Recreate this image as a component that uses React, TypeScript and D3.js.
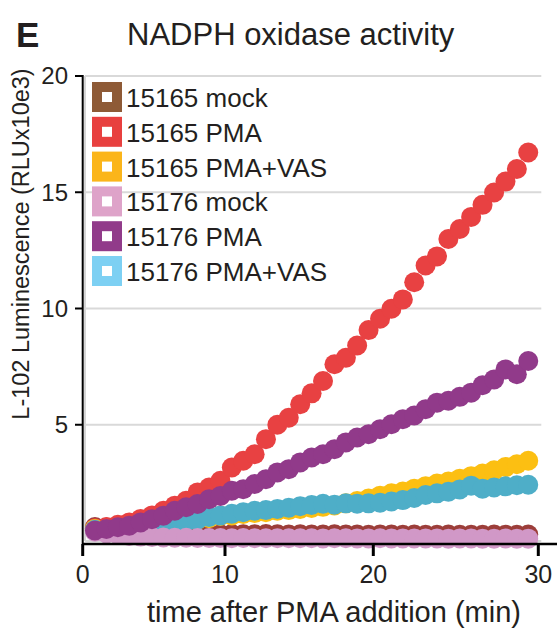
import React from "react";
import * as d3 from "d3";

// Sampling times (min) of the kinetic read
const minutes = [
  0.86, 1.67, 2.47, 3.27, 4.07, 4.87, 5.67, 6.47, 7.27, 8.07, 8.88, 9.68,
  10.46, 11.23, 12.0, 12.76, 13.53, 14.3, 15.07, 15.84, 16.61, 17.38, 18.15,
  18.91, 19.68, 20.41, 21.1, 21.79, 22.48, 23.17, 23.86, 24.55, 25.24, 25.93,
  26.62, 27.32, 28.01, 28.7, 29.39,
];

const mock15165 = [
  0.6, 0.58, 0.52, 0.47, 0.42, 0.38, 0.35, 0.33, 0.31, 0.3, 0.3, 0.29, 0.3,
  0.29, 0.29, 0.3, 0.29, 0.28, 0.29, 0.28, 0.28, 0.29, 0.28, 0.28, 0.27, 0.28,
  0.28, 0.27, 0.28, 0.27, 0.27, 0.28, 0.27, 0.27, 0.27, 0.28, 0.27, 0.27, 0.28,
];
const pma15165 = [
  0.55, 0.6, 0.7, 0.8, 0.95, 1.1, 1.3, 1.52, 1.73, 2.09, 2.3, 2.59, 3.16, 3.45,
  3.73, 4.38, 5.0, 5.3, 5.88, 6.35, 6.88, 7.6, 7.88, 8.41, 9.07, 9.56, 9.99,
  10.39, 11.13, 11.85, 12.24, 12.99, 13.42, 13.94, 14.46, 14.99, 15.46, 16.0,
  16.71,
];
const pmaVas15165 = [
  0.52, 0.5, 0.52, 0.55, 0.58, 0.62, 0.66, 0.72, 0.85, 0.92, 0.98, 1.08, 1.1,
  1.16, 1.2, 1.24, 1.3, 1.33, 1.38, 1.42, 1.47, 1.53, 1.62, 1.72, 1.83, 1.95,
  2.05, 2.13, 2.25, 2.36, 2.47, 2.56, 2.68, 2.79, 2.9, 3.04, 3.18, 3.3, 3.45,
];
const mock15176 = [
  0.4, 0.33, 0.27, 0.22, 0.19, 0.17, 0.15, 0.14, 0.14, 0.13, 0.13, 0.13, 0.12,
  0.13, 0.12, 0.12, 0.12, 0.12, 0.12, 0.12, 0.11, 0.12, 0.12, 0.11, 0.11, 0.12,
  0.11, 0.11, 0.11, 0.11, 0.11, 0.1, 0.11, 0.11, 0.1, 0.1, 0.11, 0.1, 0.1,
];
const pma15176 = [
  0.45, 0.52, 0.59, 0.66, 0.8, 0.94, 1.09, 1.3, 1.45, 1.59, 1.8, 1.94, 2.16,
  2.23, 2.45, 2.66, 2.95, 3.09, 3.38, 3.59, 3.73, 3.95, 4.24, 4.45, 4.59, 4.81,
  5.02, 5.24, 5.4, 5.67, 5.95, 6.03, 6.2, 6.38, 6.7, 6.95, 7.38, 7.17, 7.74,
];
const pmaVas15176 = [
  0.48, 0.44, 0.46, 0.5, 0.55, 0.62, 0.68, 0.75, 0.83, 0.92, 1.03, 1.1, 1.17,
  1.24, 1.3, 1.33, 1.38, 1.43, 1.5, 1.55, 1.6, 1.56, 1.62, 1.6, 1.62, 1.65,
  1.7, 1.76, 1.85, 1.98, 2.05, 2.12, 2.22, 2.38, 2.25, 2.3, 2.35, 2.4, 2.42,
];

const seriesNames = [
  "15165 mock",
  "15165 PMA",
  "15165 PMA+VAS",
  "15176 mock",
  "15176 PMA",
  "15176 PMA+VAS",
];
const seriesValues = [
  mock15165,
  pma15165,
  pmaVas15165,
  mock15176,
  pma15176,
  pmaVas15176,
];
const legendColors = ["#8e5a36", "#e8403f", "#fbb51a", "#dea3c9", "#913b8a", "#7dd0f3"];
const markerColors = ["#9c3e3a", "#e84142", "#fcbf12", "#d198c7", "#913a8a", "#4eaec8"];
// painting order of the point clouds (later = on top)
const drawOrder = [0, 1, 2, 5, 3, 4];

const xTicks = [0, 10, 20, 30];
const yTicks = [5, 10, 15, 20];

const FONT = "'Liberation Sans', Arial, Helvetica, sans-serif";
const INK = "#231f20";

export default function App() {
  const W = 557;
  const H = 629;
  // time axis drawn with a segmented (polylinear) scale
  const x = d3.scaleLinear().domain([0, 10, 20, 30]).range([82.7, 225, 373.3, 538.3]);
  const y = d3.scaleLinear().domain([0, 20]).range([541, 76]);
  const axisY = 544;
  const r = 10;

  return (
    <svg
      width={W}
      height={H}
      style={{ position: "absolute", left: 0, top: 0, background: "#fff" }}
      fontFamily={FONT}
    >
      {/* panel letter and title */}
      <text x={16} y={47} fontSize={35} fontWeight="bold" fill={INK}>
        E
      </text>
      <text x={127} y={45} fontSize={31} fill={INK}>
        NADPH oxidase activity
      </text>

      {/* light frame and horizontal grid */}
      <line x1={85} x2={85} y1={y(20)} y2={y(0)} stroke="#d6d6d6" strokeWidth={2} />
      <line x1={85} x2={x(30) + 3} y1={y(0)} y2={y(0)} stroke="#d6d6d6" strokeWidth={2} />
      {yTicks.map((t) => (
        <line
          key={"g" + t}
          x1={85}
          x2={x(30) + 3}
          y1={y(t)}
          y2={y(t)}
          stroke="#d9d9d9"
          strokeWidth={2}
        />
      ))}

      {/* markers */}
      {drawOrder.map((si) => (
        <g key={"s" + si} fill={markerColors[si]}>
          {seriesValues[si].map((v, i) => (
            <circle key={i} cx={x(minutes[i])} cy={y(v)} r={r} />
          ))}
        </g>
      ))}

      {/* y axis */}
      <line x1={82.7} x2={82.7} y1={y(20) - 1} y2={axisY} stroke="#000" strokeWidth={2} />
      {yTicks.map((t) => (
        <g key={"yt" + t}>
          <line x1={75} x2={82.7} y1={y(t)} y2={y(t)} stroke="#000" strokeWidth={2} />
          <text
            x={68}
            y={y(t)}
            dy="0.35em"
            textAnchor="end"
            fontSize={24}
            fill={INK}
          >
            {t}
          </text>
        </g>
      ))}

      {/* x axis */}
      <line x1={82.7} x2={W} y1={axisY} y2={axisY} stroke="#000" strokeWidth={2.5} />
      {xTicks.map((t) => (
        <g key={"xt" + t}>
          <line x1={x(t)} x2={x(t)} y1={axisY} y2={556} stroke="#000" strokeWidth={3} />
          <text x={x(t)} y={583} textAnchor="middle" fontSize={25} fill={INK}>
            {t}
          </text>
        </g>
      ))}

      {/* axis titles */}
      <text x={334} y={622} textAnchor="middle" fontSize={29} fill={INK}>
        time after PMA addition (min)
      </text>
      <text
        transform="translate(29,244) rotate(-90)"
        textAnchor="middle"
        fontSize={23.5}
        fill={INK}
      >
        L-102 Luminescence (RLUx10e3)
      </text>

      {/* legend */}
      {seriesNames.map((name, i) => {
        const top = 82 + i * 34.8;
        return (
          <g key={"lg" + i}>
            <rect x={92} y={top} width={30} height={30} fill={legendColors[i]} />
            <rect x={102} y={top + 10} width={10} height={10} fill="#fff" />
            <text x={126} y={top + 25} fontSize={26} fill={INK}>
              {name}
            </text>
          </g>
        );
      })}
    </svg>
  );
}
